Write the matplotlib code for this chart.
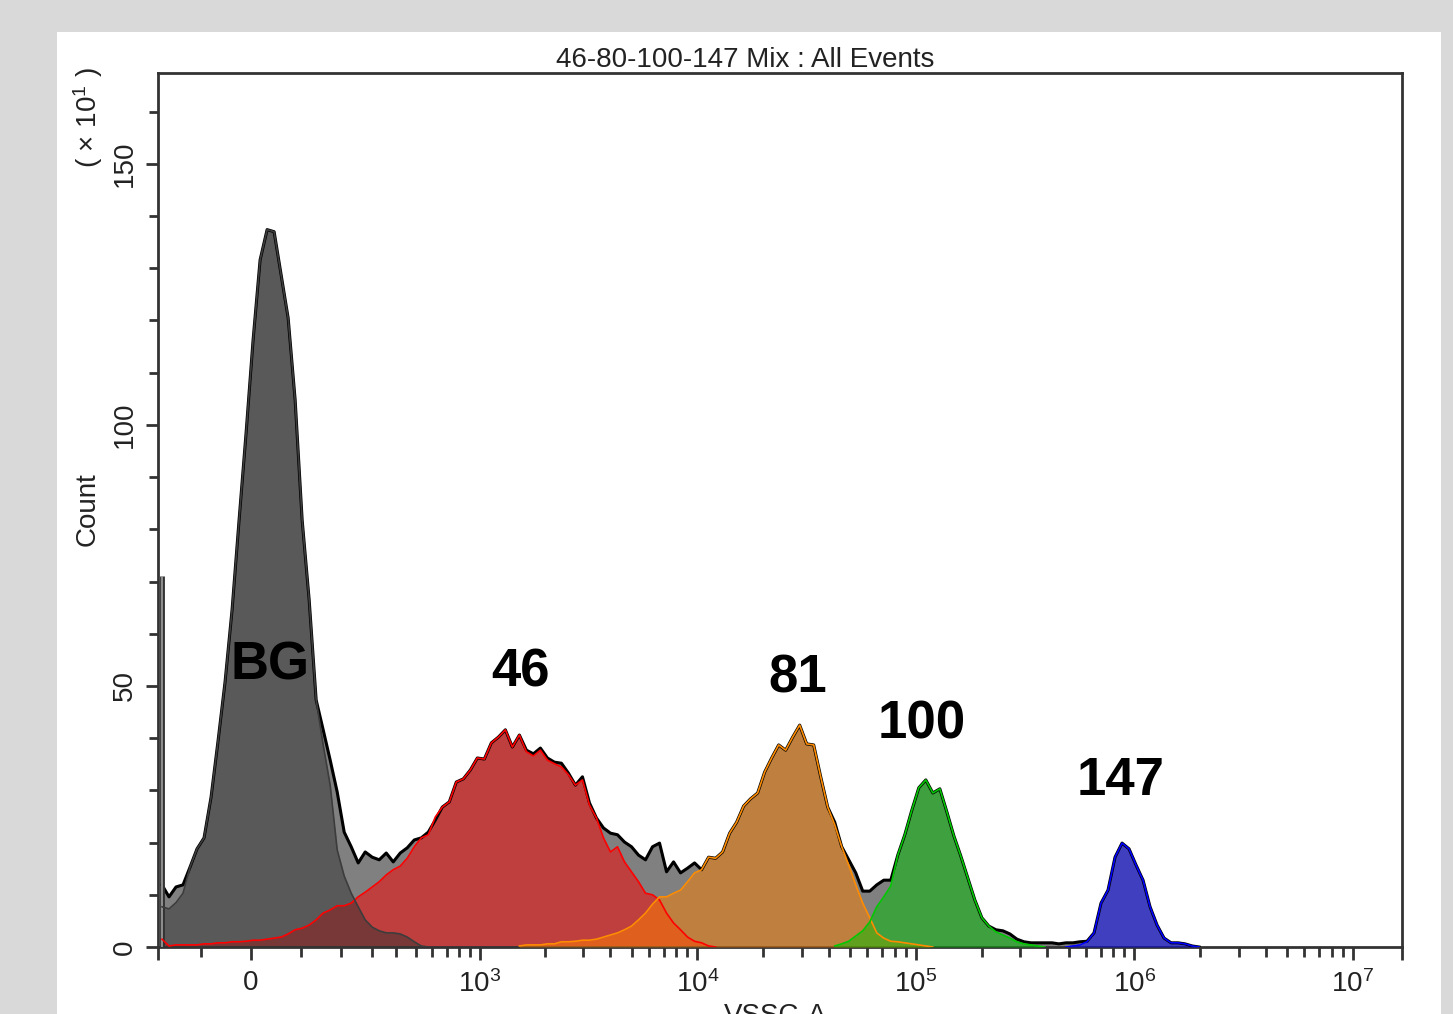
import numpy as np
from matplotlib import pyplot as plt
from matplotlib import font_manager
from matplotlib.patches import Rectangle

# histogram bins, evenly spaced on the display (asinh) scale
LIN_W = 181.5
U0, DU = -0.9388, 0.07384
N_BINS = 149

# counts (x10) per bin, each population starts at a given bin index
all_events = [11.9, 9.6, 11.5, 11.9, 15.3, 18.8, 20.9, 28.7, 39.5, 50.8,
              64.6, 81.8, 98.5, 116.3, 131.6, 137.4, 137.0, 128.7, 120.5, 104.8,
              81.8, 66.5, 47.3, 41.6, 35.8, 29.7, 22.0, 19.2, 16.1, 18.2,
              17.2, 16.7, 18.0, 16.3, 18.0, 19.0, 20.5, 20.9, 22.0, 24.3,
              26.8, 27.8, 31.6, 32.2, 33.9, 36.2, 36.0, 39.1, 40.2, 41.6,
              38.3, 40.6, 37.7, 37.0, 38.1, 36.2, 35.4, 35.2, 33.3, 31.0,
              32.6, 27.6, 24.7, 22.8, 21.8, 21.5, 20.1, 19.2, 17.6, 16.7,
              19.2, 19.9, 14.4, 16.3, 14.2, 15.1, 16.1, 14.8, 17.2, 17.0,
              18.2, 21.8, 23.9, 27.0, 28.4, 29.5, 33.5, 36.2, 38.7, 37.7,
              40.2, 42.5, 38.9, 38.7, 32.6, 26.8, 23.9, 19.2, 16.7, 14.2,
              10.7, 10.7, 11.9, 12.8, 12.8, 17.6, 21.5, 26.2, 30.5, 32.0,
              29.5, 30.3, 25.9, 21.3, 17.4, 13.2, 9.0, 5.6, 4.0, 3.3,
              3.1, 2.5, 1.5, 1.0, 0.8, 0.8, 0.8, 0.8, 0.6, 0.8,
              0.8, 1.0, 1.1, 2.7, 8.4, 10.9, 17.2, 19.9, 18.8, 15.7,
              12.8, 7.7, 4.2, 1.7, 0.8, 0.8, 0.6, 0.2, 0.0]
pileup = 71.0  # first channel (off-scale low events)

bg_start = 0
bg = [7.7, 7.3, 8.5, 10.3, 15.3, 18.8, 20.9, 28.7, 39.5, 50.8,
      64.6, 81.8, 98.5, 116.3, 131.6, 137.4, 137.0, 128.7, 120.5, 104.8,
      81.8, 66.5, 47.3, 38.7, 31.0, 18.6, 13.6, 10.3, 7.7, 5.2,
      3.8, 3.1, 2.7, 2.7, 2.5, 1.9, 1.0, 0.2, 0.0]

p46_start = 0
p46 = [1.5, 0.2, 0.4, 0.4, 0.4, 0.4, 0.6, 0.6, 0.8, 0.8,
       1.0, 1.0, 1.1, 1.3, 1.3, 1.5, 1.7, 1.9, 2.5, 3.3,
       3.6, 4.2, 5.2, 6.5, 7.1, 7.9, 7.9, 8.4, 9.6, 10.5,
       11.5, 12.5, 13.8, 14.8, 15.5, 17.0, 19.2, 20.9, 21.5, 24.9,
       26.8, 27.8, 31.6, 32.2, 33.9, 36.2, 36.0, 39.1, 40.2, 41.6,
       38.3, 40.6, 37.4, 36.6, 37.7, 35.8, 35.1, 34.5, 33.0, 31.0,
       32.0, 27.2, 24.7, 20.9, 18.2, 19.2, 16.3, 14.4, 12.5, 10.3,
       10.0, 9.0, 6.5, 4.6, 3.3, 1.9, 1.1, 0.8, 0.2, 0.0]

p81_start = 51
p81 = [0.2, 0.4, 0.4, 0.4, 0.6, 0.6, 1.0, 1.0, 1.1, 1.3,
       1.3, 1.5, 1.9, 2.3, 2.7, 3.3, 4.0, 5.2, 6.5, 8.2,
       9.6, 9.6, 10.3, 10.9, 12.5, 14.2, 14.8, 17.2, 17.0, 18.2,
       21.8, 23.9, 27.0, 28.4, 29.5, 33.5, 36.2, 38.7, 37.7, 40.2,
       42.5, 38.9, 38.7, 32.6, 26.8, 23.4, 19.2, 15.7, 11.9, 8.4,
       5.6, 2.7, 1.7, 1.1, 1.0, 0.8, 0.6, 0.4, 0.2, 0.0]

p100_start = 96
p100 = [0.2, 0.6, 1.1, 2.1, 3.1, 4.8, 7.7, 9.6, 11.7, 17.6,
        21.5, 26.2, 30.5, 32.0, 29.5, 30.3, 25.9, 21.3, 17.4, 13.2,
        9.0, 5.6, 4.0, 2.9, 2.3, 1.7, 1.0, 0.6, 0.4, 0.2, 0.0]

p147_start = 129
p147 = [0.0, 0.2, 0.4, 1.0, 2.7, 8.4, 10.9, 17.2, 19.9, 18.8,
        15.7, 12.8, 7.7, 4.2, 1.7, 0.8, 0.8, 0.6, 0.2, 0.0]

labels = ['BG', '46', '81', '100', '147']
label_x = [37, 1546, 28680, 106300, 868700]
label_y = [54.0, 52.5, 51.5, 42.7, 31.8]

XMIN, XMAX = -208, 2 ** 24
YMAX = 167.4

names = {f.name for f in font_manager.fontManager.ttflist}
if 'Liberation Sans Narrow' in names:
    FONT, FS = 'Liberation Sans Narrow', 21
else:
    FONT, FS = 'Liberation Sans', 20
plt.rcParams['font.family'] = [FONT, 'DejaVu Sans']
plt.rcParams['mathtext.default'] = 'regular'

u = U0 + DU * np.arange(N_BINS)
x = LIN_W * np.sinh(u)

fig = plt.figure(figsize=(14.53, 10.14), dpi=100, facecolor='#d9d9d9')
fig.add_artist(Rectangle((57 / 1453, 0), 1384 / 1453, 982 / 1014,
                         transform=fig.transFigure, facecolor='white',
                         edgecolor='none', zorder=-1))
ax = fig.add_axes([158 / 1453, 67 / 1014, 1244 / 1453, 874 / 1014])
ax.set_xscale('asinh', linear_width=LIN_W)


def seg(start, vals):
    return x[start:start + len(vals)], np.array(vals)


ax.fill_between(x, 0, all_events, color='#808080', lw=0, zorder=1)
pops = [
    (p46_start, p46, '#ff0000', '#ff0000', 2),
    (bg_start, bg, '#333333', '#3c3c3c', 3),
    (p81_start, p81, '#ff8000', '#ff8c00', 4),
    (p100_start, p100, '#00c000', '#00c800', 5),
    (p147_start, p147, '#0000ff', '#0000ff', 6),
]
for start, vals, fc, ec, z in pops:
    xs, ys = seg(start, vals)
    ax.fill_between(xs, 0, ys, color=fc, alpha=0.5, lw=0, zorder=z)

ax.plot(x, all_events, color='black', lw=2.2, zorder=8)
ax.vlines(x[0], 0, pileup, color='#333333', lw=3.5, zorder=8)
ax.vlines(x[0], 0, pileup, color='#a0a0a0', lw=1.2, zorder=9)
for start, vals, fc, ec, z in pops:
    xs, ys = seg(start, vals)
    ax.plot(xs, ys, color=ec, lw=1.2, zorder=10)

for t, lx, ly in zip(labels, label_x, label_y):
    ax.text(lx, ly, t, ha='center', va='center', fontsize=38,
            fontweight='bold', family='Liberation Sans', color='black', zorder=12)

ax.set_xlim(XMIN, XMAX)
ax.set_ylim(0, YMAX)

major_x = [XMIN, 0, 1e3, 1e4, 1e5, 1e6, 1e7, XMAX]
major_lbl = ['', '0', '$10^{3}$', '$10^{4}$', '$10^{5}$', '$10^{6}$', '$10^{7}$', '']
minor_x = [-100] + [m * 10 ** d for d in range(2, 7) for m in range(2 if d > 2 else 1, 10)]
ax.set_xticks(major_x, major_lbl)
ax.set_xticks(minor_x, minor=True)
ax.set_yticks([0, 50, 100, 150], ['0', '50', '100', '150'])
ax.set_yticks(np.arange(10, 170, 10), minor=True)

for s in ax.spines.values():
    s.set_linewidth(2)
    s.set_color('#333333')
ax.tick_params(axis='both', which='both', direction='out', width=2,
               color='#333333', labelsize=FS, labelcolor='#222222')
ax.tick_params(axis='x', which='major', length=9.5, pad=7)
ax.tick_params(axis='x', which='minor', length=7)
ax.tick_params(axis='y', which='major', length=8.5, pad=6, labelrotation=90)
ax.tick_params(axis='y', which='minor', length=6.5)
for lab in ax.get_yticklabels():
    lab.set_va('center')

fig.text(745 / 1453, 1 - 67 / 1014, '46-80-100-147 Mix : All Events',
         ha='center', va='baseline', fontsize=FS, color='#222222')
fig.text(88 / 1453, 1 - 509 / 1014, 'Count', rotation=90, ha='center',
         va='center', fontsize=FS, color='#222222')
fig.text(88 / 1453, 1 - 118 / 1014, '( × 10$^{1}$ )', rotation=90, ha='center',
         va='center', fontsize=FS, color='#222222')
# axis title sits at the lower edge of the panel, as in the source image
fig.text(775 / 1453, 1 - 1003 / 1014, 'VSSC-A', ha='center', va='top',
         fontsize=FS, color='#222222')

fig.savefig('out.png', dpi=100, facecolor=fig.get_facecolor())
